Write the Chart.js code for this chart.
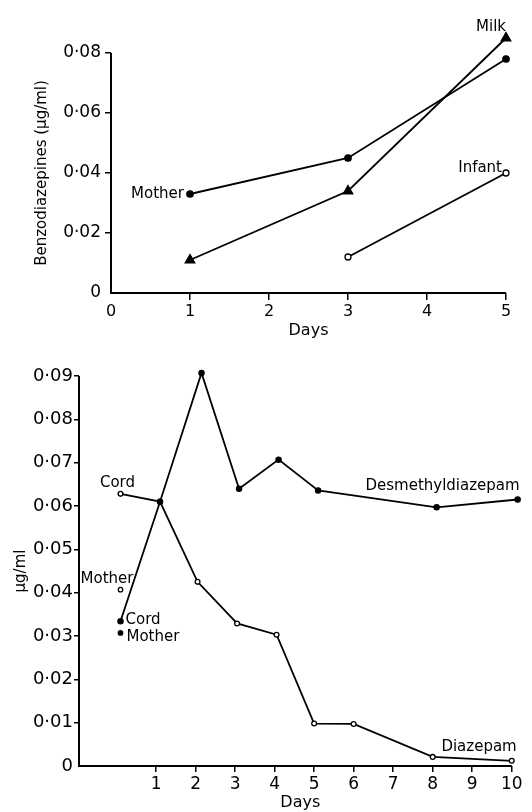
<!DOCTYPE html>
<html lang="en">
<head>
<meta charset="UTF-8">
<title>Benzodiazepines</title>
<script src="https://cdn.jsdelivr.net/npm/chart.js"></script>
<style>
  html, body { margin: 0; padding: 0; background: #fff; }
  #wrap { position: relative; width: 532px; height: 812px; overflow: hidden; }
  canvas { position: absolute; left: 0; }
  #topChart { top: 0; }
  #bottomChart { top: 345px; }
</style>
</head>
<body>
<div id="wrap">
  <canvas id="topChart" width="532" height="345"></canvas>
  <canvas id="bottomChart" width="532" height="467"></canvas>
</div>
<script>
// top panel: mother / milk / infant
const topDays = [1, 3, 5];
const topMother = [0.033, 0.045, 0.078];
const topMilk = [0.011, 0.034, 0.085];
const infantDays = [3, 5];
const topInfant = [0.012, 0.040];
const topYTicks = [0, 0.02, 0.04, 0.06, 0.08];
const topXTicks = [0, 1, 2, 3, 4, 5];

// bottom panel: desmethyldiazepam / diazepam
const desmDays = [0.1, 1.1, 2.15, 3.1, 4.1, 5.1, 8.1, 10.15];
const desmVals = [0.0334, 0.061, 0.0907, 0.064, 0.0707, 0.0636, 0.0597, 0.0615];
const diazDays = [0.1, 1.1, 2.05, 3.05, 4.05, 5.0, 6.0, 8.0, 10.0];
const diazVals = [0.0628, 0.061, 0.0425, 0.0329, 0.0303, 0.0098, 0.0097, 0.0021, 0.0012];
const motherDays = [0.1];
const motherDiaz = [0.0407];
const motherDesm = [0.0307];
const bottomYTicks = [0, 0.01, 0.02, 0.03, 0.04, 0.05, 0.06, 0.07, 0.08, 0.09];
const bottomXTicks = [1, 2, 3, 4, 5, 6, 7, 8, 9, 10];

const FONT = 'DejaVu Sans';
const pts = (xs, ys) => xs.map((x, i) => ({ x, y: ys[i] }));
const fmtY = v => v === 0 ? '0' : '0·0' + Math.round(v * 100);
const fixTicks = list => scale => { scale.ticks = list.map(value => ({ value })); };
const hideZero = ctx => (ctx.tick && ctx.tick.value === 0) ? 'rgba(0,0,0,0)' : '#000';

// text placed next to the data it names
const labelPlugin = {
  id: 'labels',
  afterDatasetsDraw(chart, args, opts) {
    const { ctx, scales: { x, y } } = chart;
    ctx.save();
    ctx.font = opts.font;
    ctx.fillStyle = '#000';
    ctx.textBaseline = 'middle';
    opts.items.forEach(it => {
      ctx.save();
      ctx.textAlign = it.align;
      ctx.translate(x.getPixelForValue(it.x) + it.dx, y.getPixelForValue(it.y) + it.dy);
      if (it.rot) ctx.rotate(it.rot);
      ctx.fillText(it.text, 0, 0);
      ctx.restore();
    });
    ctx.restore();
  }
};

// axis lines stop at the last tick, data may run past them
const axisPlugin = {
  id: 'axes',
  afterDraw(chart, args, opts) {
    const { ctx, scales: { x, y } } = chart;
    const x0 = x.getPixelForValue(x.min);
    const y0 = y.getPixelForValue(0);
    ctx.save();
    ctx.strokeStyle = '#000';
    ctx.lineWidth = 2;
    ctx.beginPath();
    ctx.moveTo(x0, y.getPixelForValue(opts.yEnd));
    ctx.lineTo(x0, y0);
    ctx.lineTo(x.getPixelForValue(opts.xEnd), y0);
    ctx.stroke();
    ctx.restore();
  }
};

const line = (data, extra) => Object.assign({
  data, borderColor: '#000', borderWidth: 1.8, backgroundColor: '#000',
  pointBorderColor: '#000', pointBorderWidth: 1.3, clip: false, tension: 0
}, extra);

new Chart(document.getElementById('topChart'), {
  type: 'line',
  data: {
    datasets: [
      line(pts(topDays, topMother), { pointRadius: 3.2, pointBackgroundColor: '#000' }),
      line(pts(topDays, topMilk), { pointStyle: 'triangle', pointRadius: 5.5, pointBackgroundColor: '#000' }),
      line(pts(infantDays, topInfant), { pointRadius: 3, pointBackgroundColor: '#fff' })
    ]
  },
  options: {
    responsive: false, animation: false,
    layout: { padding: { left: 0, right: 26, top: 29, bottom: 0 } },
    plugins: {
      legend: { display: false }, tooltip: { enabled: false },
      axes: { xEnd: 5, yEnd: 0.08 },
      labels: {
        font: '15px ' + FONT,
        items: [
          { text: 'Mother', x: 1, y: 0.033, dx: -6, dy: 0, align: 'right' },
          { text: 'Milk', x: 5, y: 0.085, dx: 0, dy: -11, align: 'right' },
          { text: 'Infant', x: 5, y: 0.040, dx: -4, dy: -5, align: 'right' },
          { text: 'Benzodiazepines (µg/ml)', x: 0, y: 0.04, dx: -69, dy: 0, align: 'center', rot: -Math.PI / 2 }
        ]
      }
    },
    scales: {
      x: {
        type: 'linear', min: 0, max: 5,
        afterBuildTicks: fixTicks(topXTicks),
        afterFit: s => { s.height = 52; },
        border: { display: false },
        grid: { drawOnChartArea: false, tickLength: 7, color: hideZero, lineWidth: 1.5 },
        ticks: { color: '#000', font: { family: FONT, size: 16 }, padding: 2 },
        title: { display: true, text: 'Days', color: '#000', font: { family: FONT, size: 16 }, padding: { top: 0, bottom: 5 } }
      },
      y: {
        min: 0, max: 0.088,
        afterBuildTicks: fixTicks(topYTicks),
        afterFit: s => { s.width = 111; },
        border: { display: false },
        grid: { drawOnChartArea: false, tickLength: 6, color: hideZero, lineWidth: 1.5 },
        ticks: { color: '#000', font: { family: FONT, size: 17 }, padding: 4, callback: fmtY }
      }
    }
  },
  plugins: [labelPlugin, axisPlugin]
});

new Chart(document.getElementById('bottomChart'), {
  type: 'line',
  data: {
    datasets: [
      line(pts(desmDays, desmVals), { pointRadius: 2.6, pointBackgroundColor: '#000' }),
      line(pts(diazDays, diazVals), { pointRadius: 2.4, pointBackgroundColor: '#fff' }),
      line(pts(motherDays, motherDiaz), { showLine: false, pointRadius: 2.2, pointBackgroundColor: '#fff' }),
      line(pts(motherDays, motherDesm), { showLine: false, pointRadius: 2.2, pointBackgroundColor: '#000' })
    ]
  },
  options: {
    responsive: false, animation: false,
    layout: { padding: { left: 0, right: 10.4, top: 31, bottom: 0 } },
    plugins: {
      legend: { display: false }, tooltip: { enabled: false },
      axes: { xEnd: 10, yEnd: 0.09 },
      labels: {
        font: '15px ' + FONT,
        items: [
          { text: 'Cord', x: 0.1, y: 0.0628, dx: -3, dy: -11, align: 'center' },
          { text: 'Desmethyldiazepam', x: 10.15, y: 0.0615, dx: 2, dy: -13, align: 'right' },
          { text: 'Mother', x: 0.1, y: 0.0407, dx: 13, dy: -11, align: 'right' },
          { text: 'Cord', x: 0.1, y: 0.0334, dx: 5, dy: -1, align: 'left' },
          { text: 'Mother', x: 0.1, y: 0.0307, dx: 6, dy: 4, align: 'left' },
          { text: 'Diazepam', x: 10, y: 0.0012, dx: 5, dy: -14, align: 'right' }
        ]
      }
    },
    scales: {
      x: {
        type: 'linear', min: -0.95, max: 10.25,
        afterBuildTicks: fixTicks(bottomXTicks),
        afterFit: s => { s.height = 46; },
        border: { display: false },
        grid: { drawOnChartArea: false, tickLength: 6, color: '#000', lineWidth: 1.5 },
        ticks: { color: '#000', font: { family: FONT, size: 17 }, padding: 2 },
        title: { display: true, text: 'Days', color: '#000', font: { family: FONT, size: 16 }, padding: { top: 0, bottom: 0 } }
      },
      y: {
        min: 0, max: 0.09,
        afterBuildTicks: fixTicks(bottomYTicks),
        afterFit: s => { s.width = 79; },
        border: { display: false },
        grid: { drawOnChartArea: false, tickLength: 5, color: hideZero, lineWidth: 1.5 },
        ticks: { color: '#000', font: { family: FONT, size: 18 }, padding: 1, callback: fmtY },
        title: { display: true, text: 'µg/ml', color: '#000', font: { family: FONT, size: 15 }, padding: { top: 12, bottom: 0 } }
      }
    }
  },
  plugins: [labelPlugin, axisPlugin]
});
</script>
</body>
</html>
